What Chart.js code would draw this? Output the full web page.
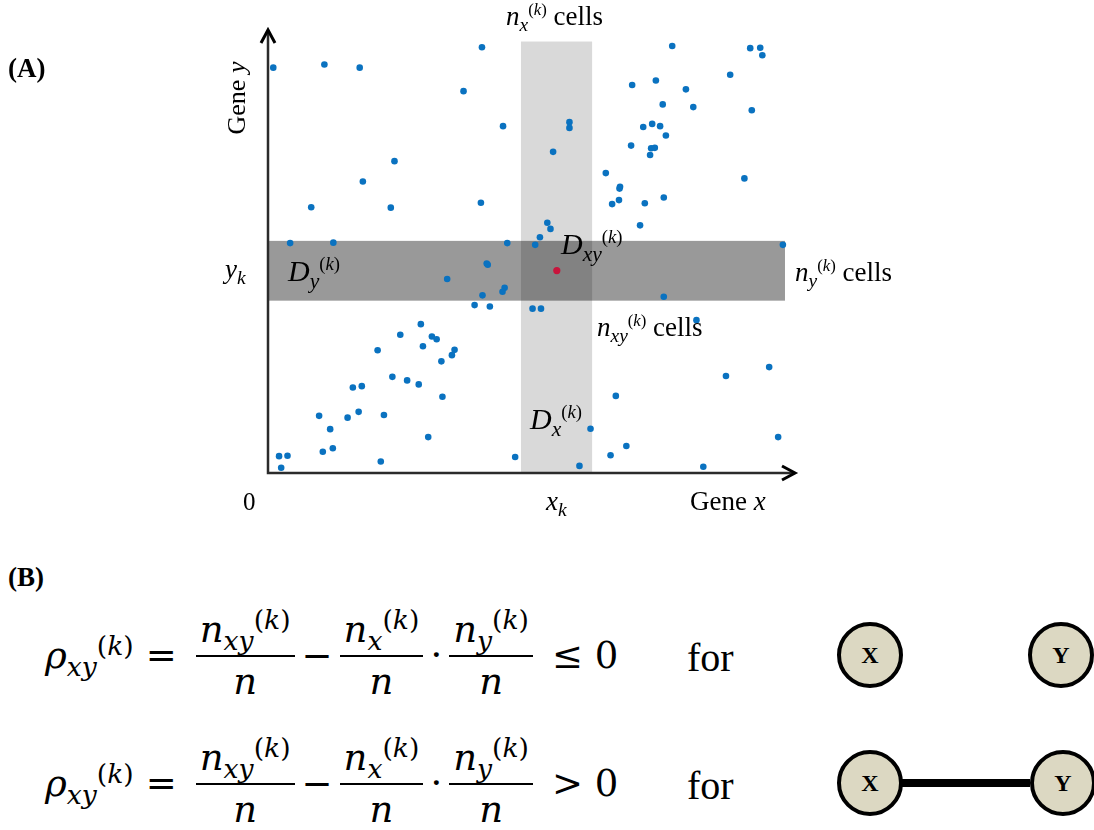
<!DOCTYPE html>
<html>
<head>
<meta charset="utf-8">
<script src="https://cdn.jsdelivr.net/npm/chart.js@4/dist/chart.umd.min.js"></script>
<style>
    body { margin: 0; background: #fff; width: 1094px; height: 830px; position: relative; overflow: hidden; font-family: "Liberation Serif", serif; color: #000; }
    #chartBox { position: absolute; left: 0; top: 0; width: 1094px; height: 520px; }
    .lbl { position: absolute; white-space: nowrap; line-height: 1; }
    .lbl i { font-style: italic; }
    .lbl sub { font-size: 72%; line-height: 0; }
    .lbl sup { font-size: 62%; line-height: 0; }
    .eq { position: absolute; left: 45px; white-space: nowrap; font-family: "DejaVu Serif", serif; font-size: 37px; display: flex; align-items: center; }
    .eq i { font-style: italic; }
    .eq sub, .eq sup { font-size: 72%; line-height: 0; }
    .frac { display: inline-flex; flex-direction: column; align-items: center; margin: 0 7px; }
    .frac .num { border-bottom: 2px solid #000; padding: 0 4px 4px 4px; }
    .frac .den { padding-top: 3px; }
    .op { margin: 0 12px; }
    .node { position: absolute; width: 58px; height: 58px; border: 4px solid #000; border-radius: 50%; background: #dcd8c2; box-sizing: content-box; font-family: "Liberation Serif", serif; font-weight: bold; font-size: 24px; display: flex; align-items: center; justify-content: center; transform: translate(-50%, -50%); }
    .edge { position: absolute; height: 8px; background: #000; }
</style>
</head>
<body>
<div id="chartBox"><canvas id="geneChart" width="1094" height="520"></canvas></div>

<!-- panel A labels -->
<div class="lbl" style="left:8px; top:55px; font-size:27px; font-weight:bold;">(A)</div>
<div class="lbl" style="left:237px; top:98px; font-size:26px; transform: translate(-50%, -50%) rotate(-90deg);">Gene <i>y</i></div>
<div class="lbl" style="left:225px; top:256px; font-size:27px;"><i>y</i><sub><i>k</i></sub></div>
<div class="lbl" style="left:288px; top:256px; font-size:30px;"><i>D</i><sub><i>y</i></sub><sup>(<i>k</i>)</sup></div>
<div class="lbl" style="left:506px; top:3px; font-size:27px;"><i>n</i><sub><i>x</i></sub><sup>(<i>k</i>)</sup> cells</div>
<div class="lbl" style="left:561px; top:229px; font-size:30px;"><i>D</i><sub><i>xy</i></sub><sup>(<i>k</i>)</sup></div>
<div class="lbl" style="left:795px; top:259px; font-size:27px;"><i>n</i><sub><i>y</i></sub><sup>(<i>k</i>)</sup> cells</div>
<div class="lbl" style="left:597px; top:314px; font-size:27px;"><i>n</i><sub><i>xy</i></sub><sup>(<i>k</i>)</sup> cells</div>
<div class="lbl" style="left:530px; top:404px; font-size:30px;"><i>D</i><sub><i>x</i></sub><sup>(<i>k</i>)</sup></div>
<div class="lbl" style="left:243px; top:489px; font-size:25px;">0</div>
<div class="lbl" style="left:546px; top:488px; font-size:27px;"><i>x</i><sub><i>k</i></sub></div>
<div class="lbl" style="left:690px; top:488px; font-size:27px;">Gene <i>x</i></div>

<!-- panel B -->
<div class="lbl" style="left:8px; top:564px; font-size:27px; font-weight:bold;">(B)</div>

<div class="eq" style="top:608px;">
    <span><i>ρ</i><sub><i>xy</i></sub><sup>(<i>k</i>)</sup></span>
    <span class="op">=</span>
    <span class="frac"><span class="num"><i>n</i><sub><i>xy</i></sub><sup>(<i>k</i>)</sup></span><span class="den"><i>n</i></span></span>
    <span>−</span>
    <span class="frac"><span class="num"><i>n</i><sub><i>x</i></sub><sup>(<i>k</i>)</sup></span><span class="den"><i>n</i></span></span>
    <span>·</span>
    <span class="frac"><span class="num"><i>n</i><sub><i>y</i></sub><sup>(<i>k</i>)</sup></span><span class="den"><i>n</i></span></span>
    <span class="op">≤ 0</span>
</div>
<div class="lbl" style="left:687px; top:638px; font-size:40px;">for</div>
<div class="node" style="left:870px; top:655px;">X</div>
<div class="node" style="left:1061px; top:655px;">Y</div>

<div class="eq" style="top:736px;">
    <span><i>ρ</i><sub><i>xy</i></sub><sup>(<i>k</i>)</sup></span>
    <span class="op">=</span>
    <span class="frac"><span class="num"><i>n</i><sub><i>xy</i></sub><sup>(<i>k</i>)</sup></span><span class="den"><i>n</i></span></span>
    <span>−</span>
    <span class="frac"><span class="num"><i>n</i><sub><i>x</i></sub><sup>(<i>k</i>)</sup></span><span class="den"><i>n</i></span></span>
    <span>·</span>
    <span class="frac"><span class="num"><i>n</i><sub><i>y</i></sub><sup>(<i>k</i>)</sup></span><span class="den"><i>n</i></span></span>
    <span class="op">&gt; 0</span>
</div>
<div class="lbl" style="left:687px; top:766px; font-size:40px;">for</div>
<div class="edge" style="left:900px; top:779px; width:130px;"></div>
<div class="node" style="left:870px; top:783px;">X</div>
<div class="node" style="left:1063px; top:783px;">Y</div>

<script>
// Expression values of the cells (gene x, gene y)
const geneX = [1.0, 10.7, 17.4, 40.6, 37.1, 44.6, 24.0, 18.0, 8.2, 23.3,
    40.4, 4.2, 12.4, 45.4, 76.7, 91.5, 93.4, 93.8, 87.7, 69.1,
    73.6, 79.3, 74.9, 80.7, 91.8, 57.2, 57.2, 71.2, 72.9, 74.4,
    75.5, 54.1, 68.9, 72.7, 73.4, 72.5, 64.1, 90.4, 66.8, 66.7,
    66.6, 65.3, 71.5, 75.1, 70.6, 53.0, 53.6, 51.6, 50.7, 97.7,
    41.5, 41.7, 34.0, 44.9, 44.5, 40.7, 39.2, 42.1, 29.0, 25.1,
    31.1, 32.0, 29.4, 20.8, 35.4, 34.9, 32.9, 23.6, 26.4, 28.6,
    16.1, 17.8, 33.1, 9.7, 17.2, 15.1, 22.0, 11.8, 30.4, 10.4,
    12.3, 2.1, 3.7, 2.5, 21.4, 46.9, 75.1, 50.2, 51.8, 81.3,
    95.1, 86.9, 66.0, 61.2, 96.8, 68.0, 65.0, 59.1, 82.6];
const geneY = [91.5, 92.2, 91.5, 96.1, 86.2, 78.3, 70.4, 65.8, 60.0, 59.9,
    61.0, 51.9, 52.0, 51.9, 96.4, 95.9, 96.0, 94.3, 89.9, 87.6,
    88.6, 86.6, 83.2, 82.6, 81.9, 79.2, 77.9, 78.1, 78.8, 78.3,
    76.2, 72.5, 73.9, 73.3, 73.4, 71.8, 67.7, 66.5, 64.6, 64.2,
    61.6, 60.7, 60.9, 62.2, 55.9, 56.5, 55.1, 53.2, 51.5, 51.5,
    47.3, 47.0, 43.8, 41.8, 40.9, 40.1, 37.9, 37.6, 33.6, 31.2,
    30.8, 30.2, 28.6, 27.7, 27.8, 26.6, 25.2, 21.7, 20.9, 20.0,
    19.3, 19.6, 17.2, 12.9, 13.8, 12.5, 13.1, 9.9, 8.1, 4.8,
    5.6, 3.8, 3.9, 1.2, 2.6, 3.6, 39.8, 37.1, 37.1, 34.5,
    23.9, 21.9, 17.4, 10.0, 8.1, 6.1, 4.0, 1.6, 1.4];

// the cell k and its neighbourhood windows
const cellK = [54.8, 45.7];
const windowX = [48.0, 61.5];   // x range of D_x, runs up to windowXTop
const windowY = [38.9, 52.4];   // y range of D_y, runs out to windowYRight
const windowXTop = 97.4;
const windowYRight = 98.1;
const axisMax = [100, 100];

// Draw the windows behind the points and the arrow axes
const windowsPlugin = {
    id: 'windows',
    beforeDatasetsDraw(chart) {
        const ctx = chart.ctx;
        const xs = chart.scales.x, ys = chart.scales.y;
        ctx.save();
        // light vertical window
        ctx.fillStyle = '#d9d9d9';
        let x0 = xs.getPixelForValue(windowX[0]), x1 = xs.getPixelForValue(windowX[1]);
        let yT = ys.getPixelForValue(windowXTop), yB = ys.getPixelForValue(0);
        ctx.fillRect(x0, yT, x1 - x0, yB - yT);
        // dark horizontal window
        ctx.fillStyle = 'rgba(0, 0, 0, 0.4)';
        let y0 = ys.getPixelForValue(windowY[1]), y1 = ys.getPixelForValue(windowY[0]);
        let xL = xs.getPixelForValue(0), xR = xs.getPixelForValue(windowYRight);
        ctx.fillRect(xL, y0, xR - xL, y1 - y0);
        ctx.restore();
    },
    afterDatasetsDraw(chart) {
        const ctx = chart.ctx;
        const xs = chart.scales.x, ys = chart.scales.y;
        const ox = xs.getPixelForValue(0), oy = ys.getPixelForValue(0);
        const tx = xs.getPixelForValue(axisMax[0]), ty = ys.getPixelForValue(axisMax[1]);
        ctx.save();
        ctx.strokeStyle = '#2b2b2b';
        ctx.lineWidth = 2.5;
        ctx.beginPath();
        ctx.moveTo(ox, ty + 2);
        ctx.lineTo(ox, oy);
        ctx.lineTo(tx - 2, oy);
        ctx.stroke();
        // arrow heads
        ctx.strokeStyle = '#000';
        ctx.lineWidth = 3;
        ctx.beginPath();
        ctx.moveTo(ox - 7, ty + 13);
        ctx.lineTo(ox, ty);
        ctx.lineTo(ox + 7, ty + 13);
        ctx.moveTo(tx - 13, oy - 7);
        ctx.lineTo(tx, oy);
        ctx.lineTo(tx - 13, oy + 7);
        ctx.stroke();
        ctx.restore();
    }
};

const cellPoints = geneX.map((x, i) => ({ x: x, y: geneY[i] }));

const ctx = document.getElementById('geneChart').getContext('2d');
const geneChart = new Chart(ctx, {
    type: 'scatter',
    data: {
        datasets: [{
            label: 'cells',
            data: cellPoints,
            backgroundColor: '#0a72c0',
            borderWidth: 0,
            pointRadius: 3.3
        }, {
            label: 'cell k',
            data: [{ x: cellK[0], y: cellK[1] }],
            backgroundColor: '#c8143c',
            borderWidth: 0,
            pointRadius: 3.6
        }]
    },
    options: {
        responsive: false,
        animation: false,
        devicePixelRatio: 1,
        layout: { padding: { left: 268, right: 299, top: 30, bottom: 47 } },
        scales: {
            x: { type: 'linear', min: 0, max: axisMax[0], display: false },
            y: { type: 'linear', min: 0, max: axisMax[1], display: false }
        },
        plugins: {
            legend: { display: false },
            tooltip: { enabled: false }
        }
    },
    plugins: [windowsPlugin]
});
</script>
</body>
</html>
